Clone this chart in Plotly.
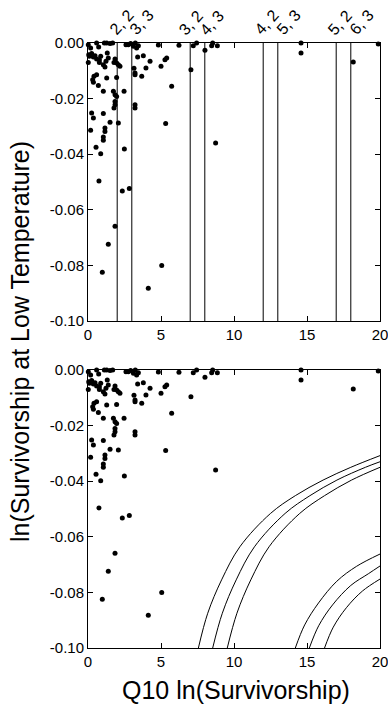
import plotly.graph_objects as go

# ---- data ----
pts_x = [0.02, 0.18, 0.59, 0.73, 1.12, 1.28, 1.51, 1.69, 2.60, 2.76, 2.92, 3.11, 3.24, 3.33, 3.45, 4.82, 6.23,
         7.21, 7.44, 8.01, 8.54, 8.47, 8.86, 7.05, 8.74, 14.59, 14.59, 18.17, 19.88,
         0.05, 0.09, 0.25, 0.37, 0.48, 0.59, 0.78, 0.87, 1.23, 1.39, 1.32, 1.85, 1.96, 2.08, 2.19,
         3.40, 3.79, 3.97, 4.25, 0.02, 0.78, 1.05, 1.16, 1.78, 3.15, 5.00, 5.27, 5.39,
         0.41, 0.59, 0.32, 0.37, 0.71, 1.28, 1.96, 3.22, 3.22, 3.68,
         1.05, 1.74, 1.85, 1.96, 2.47, 5.73,
         1.85, 1.85, 1.78, 3.22, 3.22,
         0.25, 0.37, 1.05, 1.51, 2.08, 1.16, 1.16, 1.05, 0.18, 5.32,
         1.05, 0.55, 0.87, 2.49,
         0.75, 2.35, 2.83,
         1.85, 1.39, 0.98, 5.05, 4.13]
pts_y = [-0.0006, -0.0018, 0.0, -0.0014, 0.0, 0.0, -0.0002, 0.0, -0.0006, -0.0006, -0.0002, -0.0012, 0.0, -0.0018, -0.0010, -0.0007, -0.0008,
         -0.0010, 0.0, -0.0026, 0.0, -0.0010, -0.0010, -0.0096, -0.0360, 0.0, -0.0036, -0.0068, -0.0004,
         -0.0042, -0.0048, -0.0038, -0.0050, -0.0046, -0.0058, -0.0060, -0.0048, -0.0066, -0.0054, -0.0036, -0.0058, -0.0072, -0.0078, -0.0084,
         -0.0050, -0.0046, -0.0090, -0.0066, -0.0070, -0.0070, -0.0078, -0.0086, -0.0070, -0.0091, -0.0084, -0.0060, -0.0054,
         -0.0120, -0.0114, -0.0132, -0.0141, -0.0153, -0.0126, -0.0124, -0.0108, -0.0114, -0.0120,
         -0.0174, -0.0174, -0.0186, -0.0192, -0.0174, -0.0156,
         -0.0210, -0.0222, -0.0234, -0.0222, -0.0234,
         -0.0252, -0.0270, -0.0254, -0.0285, -0.0288, -0.0306, -0.0318, -0.0338, -0.0314, -0.0290,
         -0.0350, -0.0375, -0.0398, -0.0381,
         -0.0496, -0.0532, -0.0523,
         -0.0659, -0.0724, -0.0825, -0.0800, -0.0882]

# vertical reference lines in the upper panel and their labels
vline_x = [2, 3, 7, 8, 12, 13, 17, 18]
vline_labels = ["2, 2", "3, 3", "3, 2", "4, 3", "4, 2", "5, 3", "5, 2", "6, 3"]
label_x = [2.26, 3.63, 7.05, 8.49, 12.2, 13.7, 17.25, 18.7]

# boundary curves in the lower panel (read points)
curveA1_x = [7.56, 8.2, 9.15, 10.4, 12.5, 14.2, 16.1, 18.0, 20.0]
curveA1_y = [-0.100, -0.0875, -0.0755, -0.0636, -0.0516, -0.0452, -0.0396, -0.0350, -0.0308]
curveA2_x = [8.54, 9.2, 10.15, 11.4, 13.5, 15.2, 17.05, 19.0, 20.0]
curveA2_y = [-0.100, -0.0875, -0.0755, -0.0636, -0.0516, -0.0452, -0.0396, -0.0350, -0.0330]
curveA3_x = [9.54, 10.2, 11.15, 12.4, 14.5, 16.2, 18.05, 20.0]
curveA3_y = [-0.100, -0.0875, -0.0755, -0.0636, -0.0516, -0.0452, -0.0396, -0.0350]
curveB1_x = [14.2, 14.84, 15.79, 17.04, 18.4, 20.0]
curveB1_y = [-0.100, -0.0917, -0.0838, -0.0760, -0.0706, -0.0662]
curveB2_x = [15.16, 15.8, 16.75, 18.0, 19.2, 20.0]
curveB2_y = [-0.100, -0.0920, -0.0845, -0.0775, -0.0733, -0.0705]
curveB3_x = [16.2, 16.8, 17.7, 18.8, 20.0]
curveB3_y = [-0.100, -0.0925, -0.0855, -0.0795, -0.0752]

x_ticks = [0, 5, 10, 15, 20]
y_ticks = [0.0, -0.02, -0.04, -0.06, -0.08, -0.10]
y_ticktext = ["0.00", "-0.02", "-0.04", "-0.06", "-0.08", "-0.10"]

FONT = "Liberation Sans, Arial, sans-serif"

fig = go.Figure()

marker = dict(color="black", size=5)
fig.add_trace(go.Scatter(x=pts_x, y=pts_y, mode="markers", marker=marker, xaxis="x", yaxis="y", showlegend=False, cliponaxis=False))
fig.add_trace(go.Scatter(x=pts_x, y=pts_y, mode="markers", marker=marker, xaxis="x2", yaxis="y2", showlegend=False, cliponaxis=False))

for cx, cy in [(curveA1_x, curveA1_y), (curveA2_x, curveA2_y), (curveA3_x, curveA3_y),
               (curveB1_x, curveB1_y), (curveB2_x, curveB2_y), (curveB3_x, curveB3_y)]:
    fig.add_trace(go.Scatter(x=cx, y=cy, mode="lines", line=dict(color="black", width=1, shape="spline", smoothing=1.0),
                             xaxis="x2", yaxis="y2", showlegend=False))

for vx in vline_x:
    fig.add_trace(go.Scatter(x=[vx, vx], y=[-0.1, 0.0], mode="lines", line=dict(color="black", width=1),
                             xaxis="x", yaxis="y", showlegend=False))

axis_common = dict(range=[0, 20], tickvals=x_ticks, ticks="inside", ticklen=5, tickwidth=1, tickcolor="black",
                   showline=True, linecolor="black", linewidth=1, mirror="ticks", showgrid=False, zeroline=False,
                   ticklabeloverflow="allow", automargin=False,
                   tickfont=dict(family=FONT, size=15, color="black"))
yaxis_common = dict(range=[-0.1, 0.0], tickvals=y_ticks, ticktext=y_ticktext, ticks="inside", ticklen=5, tickwidth=1,
                    tickcolor="black", showline=True, linecolor="black", linewidth=1, mirror="ticks", showgrid=False,
                    zeroline=False, ticklabeloverflow="allow", automargin=False,
                    tickfont=dict(family=FONT, size=15, color="black"))

top_bottom = (648 - 321) / 605
bot_top = (648 - 370) / 605

fig.update_layout(
    template="none",
    width=388, height=707,
    margin=dict(l=88, r=8, t=43, b=59, autoexpand=False),
    paper_bgcolor="white", plot_bgcolor="white",
    xaxis=dict(domain=[0, 1], anchor="y", **axis_common),
    yaxis=dict(domain=[top_bottom, 1], anchor="x", **yaxis_common),
    xaxis2=dict(domain=[0, 1], anchor="y2", **axis_common),
    yaxis2=dict(domain=[0, bot_top], anchor="x2", **yaxis_common),
)

for lx, lt in zip(label_x, vline_labels):
    fig.add_annotation(x=lx, y=1, xref="x", yref="paper", yshift=21, text=lt, textangle=-48, showarrow=False,
                       xanchor="center", yanchor="middle", font=dict(family=FONT, size=16, color="black"))

fig.add_annotation(x=(20 - 88) / 292, y=(648 - 342) / 605, xref="paper", yref="paper", text="ln(Survivorship at Low Temperature)",
                   textangle=-90, showarrow=False, xanchor="center", yanchor="middle",
                   font=dict(family=FONT, size=25, color="black"))
fig.add_annotation(x=(236 - 88) / 292, y=(648 - 690) / 605, xref="paper", yref="paper", text="Q10 ln(Survivorship)",
                   showarrow=False, xanchor="center", yanchor="middle", font=dict(family=FONT, size=25, color="black"))

fig.write_html("out.html", config={"displayModeBar": False},
               post_script="document.body.style.margin='0';document.body.style.overflow='hidden';")
